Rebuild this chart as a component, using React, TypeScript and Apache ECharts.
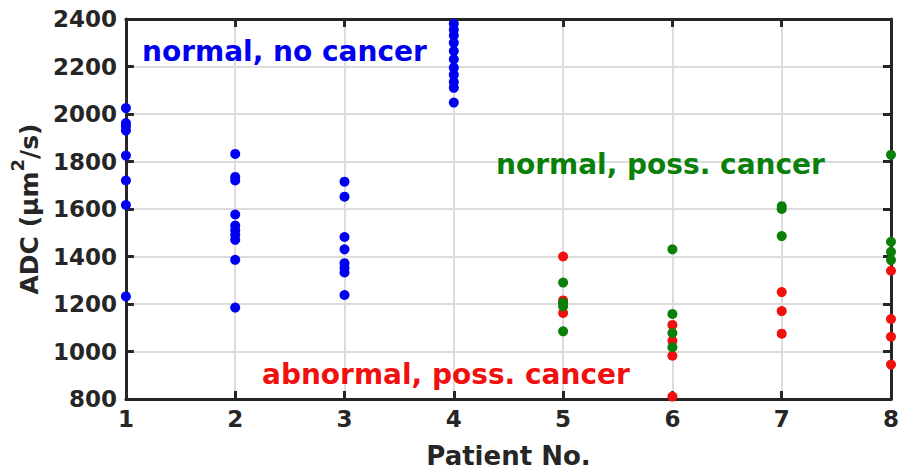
import React, { useEffect, useRef } from 'react';
import * as echarts from 'echarts';

// Patient numbers (x axis ticks)
const patientTicks = [1, 2, 3, 4, 5, 6, 7, 8];
const yTicks = [800, 1000, 1200, 1400, 1600, 1800, 2000, 2200, 2400];

// normal, no cancer (blue) — patients 1..4
const noCancerPatients = [1, 2, 3, 4];
const noCancerADC = [
  [2025, 1962, 1948, 1930, 1825, 1720, 1617, 1232],
  [1832, 1735, 1720, 1577, 1530, 1510, 1490, 1470, 1386, 1185],
  [1715, 1652, 1482, 1430, 1372, 1352, 1333, 1238],
  [2380, 2355, 2330, 2300, 2265, 2230, 2195, 2165, 2135, 2110, 2048],
];

// patients 5..8
const possCancerPatients = [5, 6, 7, 8];
// normal, poss. cancer (green)
const normalPossADC = [
  [1290, 1205, 1190, 1085],
  [1430, 1158, 1078, 1018],
  [1612, 1600, 1486],
  [1828, 1462, 1420, 1385],
];
// abnormal, poss. cancer (red)
const abnormalPossADC = [
  [1400, 1215, 1162],
  [1112, 1045, 982, 810],
  [1250, 1170, 1075],
  [1340, 1137, 1062, 945],
];

const toPoints = (patients: number[], values: number[][]) =>
  patients.flatMap((p, i) => values[i].map((v) => [p, v]));

const FONT = '"DejaVu Sans", sans-serif';
const DARK = '#262626';
const GRID = '#dcdcdc';
const BLUE = '#0000f0';
const GREEN = '#0a7f0a';
const RED = '#f01010';

if (typeof document !== 'undefined') {
  document.body.style.margin = '0';
  document.body.style.overflow = 'hidden';
}

export default function App() {
  const ref = useRef<HTMLDivElement>(null);

  useEffect(() => {
    document.body.style.margin = '0';
    if (!ref.current) return;
    const chart = echarts.init(ref.current, null, { renderer: 'svg', width: 902, height: 474 });

    const axisLine = { show: true, lineStyle: { color: DARK, width: 3 } };
    const axisTick = { show: true, inside: true, length: 8, lineStyle: { color: DARK, width: 3 } };

    chart.setOption({
      animation: false,
      backgroundColor: '#ffffff',
      grid: { left: 125, top: 19, width: 772, height: 386, containLabel: false },
      xAxis: [
        {
          type: 'value',
          min: patientTicks[0],
          max: patientTicks[patientTicks.length - 1],
          interval: 1,
          position: 'bottom',
          axisLine,
          axisTick,
          splitLine: { show: true, lineStyle: { color: GRID, width: 2 } },
          axisLabel: { fontFamily: FONT, fontWeight: 'bold', fontSize: 23, color: DARK, margin: 8 },
          name: 'Patient No.',
          nameLocation: 'middle',
          nameGap: 44,
          nameTextStyle: { fontFamily: FONT, fontWeight: 'bold', fontSize: 26, color: DARK },
        },
        {
          type: 'value',
          min: patientTicks[0],
          max: patientTicks[patientTicks.length - 1],
          interval: 1,
          position: 'top',
          axisLine,
          axisTick,
          splitLine: { show: false },
          axisLabel: { show: false },
        },
      ],
      yAxis: [
        {
          type: 'value',
          min: yTicks[0],
          max: yTicks[yTicks.length - 1],
          interval: 200,
          position: 'left',
          axisLine,
          axisTick,
          splitLine: { show: true, lineStyle: { color: GRID, width: 2 } },
          axisLabel: {
            fontFamily: FONT,
            fontWeight: 'bold',
            fontSize: 23,
            color: DARK,
            margin: 9,
            formatter: (v: number) => String(v),
          },
          name: '{t|ADC (μm}{s|2}{t|/s)}',
          nameLocation: 'middle',
          nameGap: 82,
          nameTextStyle: {
            fontFamily: FONT,
            fontWeight: 'bold',
            fontSize: 25,
            color: DARK,
            rich: {
              t: { fontFamily: FONT, fontWeight: 'bold', fontSize: 25, color: DARK, lineHeight: 34, verticalAlign: 'bottom' },
              s: { fontFamily: FONT, fontWeight: 'bold', fontSize: 18, color: DARK, lineHeight: 34, verticalAlign: 'top' },
            },
          },
        },
        {
          type: 'value',
          min: yTicks[0],
          max: yTicks[yTicks.length - 1],
          interval: 200,
          position: 'right',
          axisLine,
          axisTick,
          splitLine: { show: false },
          axisLabel: { show: false },
        },
      ],
      series: [
        {
          name: 'normal, no cancer',
          type: 'scatter',
          xAxisIndex: 0,
          yAxisIndex: 0,
          symbol: 'circle',
          symbolSize: 10,
          itemStyle: { color: BLUE, opacity: 1 },
          data: toPoints(noCancerPatients, noCancerADC),
          z: 3,
        },
        {
          name: 'abnormal, poss. cancer',
          type: 'scatter',
          xAxisIndex: 0,
          yAxisIndex: 0,
          symbol: 'circle',
          symbolSize: 10,
          itemStyle: { color: RED, opacity: 1 },
          data: toPoints(possCancerPatients, abnormalPossADC),
          z: 3,
        },
        {
          name: 'normal, poss. cancer',
          type: 'scatter',
          xAxisIndex: 0,
          yAxisIndex: 0,
          symbol: 'circle',
          symbolSize: 10,
          itemStyle: { color: GREEN, opacity: 1 },
          data: toPoints(possCancerPatients, normalPossADC),
          z: 4,
        },
      ],
      graphic: [
        {
          type: 'text',
          left: 142,
          top: 37,
          style: { text: 'normal, no cancer', font: `bold 28px ${FONT}`, fill: BLUE },
          z: 10,
        },
        {
          type: 'text',
          left: 496,
          top: 150,
          style: { text: 'normal, poss. cancer', font: `bold 28px ${FONT}`, fill: GREEN },
          z: 10,
        },
        {
          type: 'text',
          left: 262,
          top: 360,
          style: { text: 'abnormal, poss. cancer', font: `bold 28px ${FONT}`, fill: RED },
          z: 10,
        },
      ],
    });

    return () => chart.dispose();
  }, []);

  return (
    <div
      ref={ref}
      style={{ position: 'absolute', left: 0, top: 0, width: 902, height: 474 }}
    />
  );
}
